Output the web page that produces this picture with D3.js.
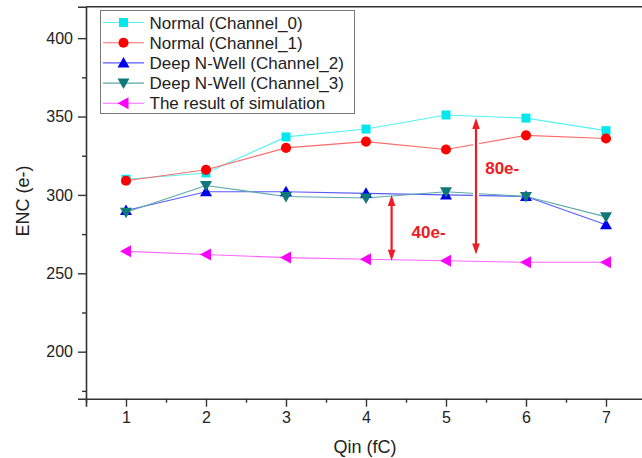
<!DOCTYPE html>
<html>
<head>
<meta charset="utf-8">
<script src="https://cdn.jsdelivr.net/npm/d3@7"></script>
<style>
  html, body { margin: 0; padding: 0; background: #fff; }
  svg { display: block; font-family: "Liberation Sans", Arial, sans-serif; }
</style>
</head>
<body>
<svg id="chart" width="642" height="458"></svg>
<script>
// Input charge (fC)
const qin = [1, 2, 3, 4, 5, 6, 7];

// ENC (e-) per channel
const normalCh0 = [310, 314, 337, 342, 351, 349, 341];
const normalCh1 = [309, 316, 330, 334, 329, 338, 336];
const deepNwellCh2 = [290, 302, 302, 301, 300, 299, 281];
const deepNwellCh3 = [289, 306, 299, 298, 302, 299, 286];
const simulation = [264, 262, 260, 259, 258, 257, 257];

const seriesNames = [
  "Normal (Channel_0)",
  "Normal (Channel_1)",
  "Deep N-Well (Channel_2)",
  "Deep N-Well (Channel_3)",
  "The result of simulation"
];

const yTicks = [200, 250, 300, 350, 400];
const yMinorTicks = [175, 225, 275, 325, 375];
const xMinorTicks = [0.5, 1.5, 2.5, 3.5, 4.5, 5.5, 6.5, 7.5];

// Gap annotations: arrow at qin = x spanning ENC y0..y1, label at (labelX, labelY)
const gapArrows = [
  { x: 4.32, y0: 258, y1: 300, label: "40e-", labelX: 4.57, labelY: 276.5 },
  { x: 5.375, y0: 262, y1: 349, label: "80e-", labelX: 5.49, labelY: 317 }
];

const series = [
  { name: seriesNames[0], values: normalCh0, color: "#00e8ee", line: "#55f2f2", symbol: "square" },
  { name: seriesNames[1], values: normalCh1, color: "#ff0000", line: "#ff6a6a", symbol: "circle" },
  { name: seriesNames[2], values: deepNwellCh2, color: "#0000f0", line: "#5a5aff", symbol: "up" },
  { name: seriesNames[3], values: deepNwellCh3, color: "#107878", line: "#5aa8a8", symbol: "down" },
  { name: seriesNames[4], values: simulation, color: "#ff00ff", line: "#ff66ff", symbol: "left" }
];

const svg = d3.select("#chart");
const x = d3.scaleLinear().domain([0.5, 7.5]).range([86, 646]);
const y = d3.scaleLinear().domain([170, 420]).range([398.7, 6.8]);

const axisColor = "#333";

// Marker shapes
function markerPath(kind) {
  switch (kind) {
    case "square": return "M-4.5,-4.5H4.5V4.5H-4.5Z";
    case "circle": return d3.symbol(d3.symbolCircle, 80)();
    case "up": return "M0,-6L6,4.5L-6,4.5Z";
    case "down": return "M0,6L6,-4.5L-6,-4.5Z";
    case "left": return "M-6,0L5,-6L5,6Z";
  }
}

// Frame: top border
svg.append("line")
  .attr("x1", x(0.5)).attr("x2", x(7.5))
  .attr("y1", y(420)).attr("y2", y(420))
  .attr("stroke", axisColor).attr("stroke-width", 1.6);

// Y axis
svg.append("g")
  .attr("transform", `translate(${x(0.5)},0)`)
  .call(d3.axisLeft(y).tickValues(yTicks).tickSize(8).tickPadding(5).tickFormat(d3.format("d")));
svg.append("g")
  .attr("transform", `translate(${x(0.5)},0)`)
  .call(d3.axisLeft(y).tickValues(yMinorTicks).tickSize(4).tickFormat(""))
  .call(g => g.select(".domain").remove());

// X axis
svg.append("g")
  .attr("transform", `translate(0,${y(170)})`)
  .call(d3.axisBottom(x).tickValues(qin).tickSize(8).tickPadding(5).tickFormat(d3.format("d")));
svg.append("g")
  .attr("transform", `translate(0,${y(170)})`)
  .call(d3.axisBottom(x).tickValues(xMinorTicks).tickSize(4).tickFormat(""))
  .call(g => g.select(".domain").remove());

svg.selectAll(".domain").attr("stroke", axisColor).attr("stroke-width", 1.6);
svg.selectAll(".tick line").attr("stroke", axisColor).attr("stroke-width", 1.4);
svg.selectAll(".tick text")
  .attr("font-family", "Liberation Sans, Arial, sans-serif")
  .attr("font-size", 16).attr("fill", "#222");

// Axis titles
svg.append("text")
  .attr("x", 365).attr("y", 453)
  .attr("text-anchor", "middle")
  .attr("font-size", 18).attr("fill", "#222")
  .text("Qin (fC)");
svg.append("text")
  .attr("transform", "translate(28.5,201) rotate(-90)")
  .attr("text-anchor", "middle")
  .attr("font-size", 18).attr("fill", "#222")
  .text("ENC (e-)");

// Series lines and markers
const lineGen = d3.line().x((d, i) => x(qin[i])).y(d => y(d));
const plot = svg.append("g");
series.forEach(s => {
  plot.append("path")
    .datum(s.values)
    .attr("d", lineGen)
    .attr("fill", "none")
    .attr("stroke", s.line)
    .attr("stroke-width", 1.1);
});

// White halo so the annotation arrows cut through the series lines
const arrowLayer = svg.append("g");
gapArrows.forEach(a => {
  arrowLayer.append("line")
    .attr("x1", x(a.x)).attr("x2", x(a.x))
    .attr("y1", y(a.y1) + 3).attr("y2", y(a.y0) - 3)
    .attr("stroke", "#fff").attr("stroke-width", 6);
});

series.forEach(s => {
  plot.append("g").selectAll("path")
    .data(s.values)
    .join("path")
    .attr("transform", (d, i) => `translate(${x(qin[i])},${y(d)})`)
    .attr("d", markerPath(s.symbol))
    .attr("fill", s.color);
});

// Arrows
const arrowRed = "#ee1c24";
gapArrows.forEach(a => {
  const ax = x(a.x), top = y(a.y1), bot = y(a.y0);
  arrowLayer.append("line")
    .attr("x1", ax).attr("x2", ax)
    .attr("y1", top + 8).attr("y2", bot - 8)
    .attr("stroke", arrowRed).attr("stroke-width", 2.2);
  arrowLayer.append("path")
    .attr("d", `M${ax},${top}L${ax + 3.8},${top + 11}L${ax - 3.8},${top + 11}Z`)
    .attr("fill", arrowRed);
  arrowLayer.append("path")
    .attr("d", `M${ax},${bot}L${ax + 3.8},${bot - 11}L${ax - 3.8},${bot - 11}Z`)
    .attr("fill", arrowRed);
  arrowLayer.append("text")
    .attr("x", x(a.labelX)).attr("y", y(a.labelY) + 6)
    .attr("font-size", 17).attr("font-weight", "bold")
    .attr("fill", arrowRed)
    .text(a.label);
});

// Legend
const legend = svg.append("g");
legend.append("rect")
  .attr("x", 100.5).attr("y", 10.5)
  .attr("width", 254).attr("height", 103)
  .attr("fill", "#fff").attr("stroke", "#777").attr("stroke-width", 1);
series.forEach((s, i) => {
  const cy = 22.5 + i * 20.2;
  legend.append("line")
    .attr("x1", 103).attr("x2", 144).attr("y1", cy).attr("y2", cy)
    .attr("stroke", s.line).attr("stroke-width", 1.1);
  legend.append("path")
    .attr("transform", `translate(123.5,${cy})`)
    .attr("d", markerPath(s.symbol))
    .attr("fill", s.color);
  legend.append("text")
    .attr("x", 149.5).attr("y", cy + 6)
    .attr("font-size", 17).attr("fill", "#222")
    .text(s.name);
});
</script>
</body>
</html>
